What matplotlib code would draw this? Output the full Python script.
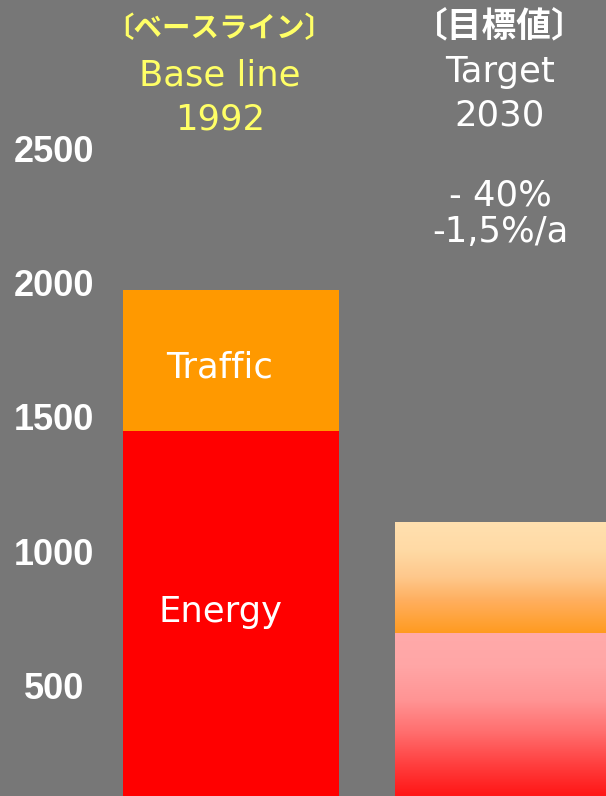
import numpy as np
import matplotlib
matplotlib.use("Agg")
import matplotlib.pyplot as plt
from matplotlib.colors import LinearSegmentedColormap

# ---- data ----
categories = ["Base line 1992", "Target 2030"]
energy = [1462, 707]
traffic = [526, 417]  # stacked on top of energy
yticks = [500, 1000, 1500, 2000, 2500]

W, H = 606, 796
BG = "#777777"
fig = plt.figure(figsize=(W / 100, H / 100), dpi=100, facecolor=BG)
ax = fig.add_axes([0, 0, 1, 1])
ax.set_facecolor(BG)
# y: value 0 at pixel 823.75, 134.25 px per 500
ppu = 134.25 / 500
ax.set_ylim((823.75 - H) / ppu, 823.75 / ppu)
ax.set_xlim(-231 / 272, (W - 231) / 272)
ax.axis("off")

x = np.arange(len(categories))
w = 216 / 272

# Base line bars (solid)
ax.bar(x[0], energy[0], width=w, color="#FF0000", zorder=2)
ax.bar(x[0], traffic[0], bottom=energy[0], width=w, color="#FF9900", zorder=2)

# Target bars (gradient)
def grad_bar(xc, bottom, height, colors):
    cmap = LinearSegmentedColormap.from_list("g", colors)
    grad = np.linspace(0, 1, 256).reshape(-1, 1)
    ax.imshow(grad, cmap=cmap, aspect="auto", origin="upper",
              extent=[xc - w / 2, xc + w / 2, bottom, bottom + height], zorder=2)

grad_bar(x[1], energy[1], traffic[1],
         [(0, "#FFE0B0"), (0.25, "#FFDAA5"), (0.49, "#FEC88C"),
          (0.7, "#FFAF5F"), (1, "#FF9A1E")])
grad_bar(x[1], 0, energy[1],
         [(0, "#FFAAAA"), (0.17, "#FFA6A6"), (0.35, "#FF9494"),
          (0.52, "#FF6E6E"), (0.70, "#FF3C3C"), (0.84, "#FF1919"),
          (1, "#FF0000")])

# y tick labels
for v in yticks:
    ax.text(54 / 272 - 231 / 272, v, f"{v}", color="white", fontsize=26,
            fontweight="bold", family="Liberation Sans", ha="center",
            va="center", zorder=3)

lat = ["DejaVu Sans", "Noto Sans CJK JP"]
cjk = ["Noto Sans CJK JP", "DejaVu Sans"]
yel = "#FFFF66"

def hdr(xpx, ypx, s, color, size=25.5, fam=lat, va="baseline", weight="normal"):
    fig.text(xpx / W, 1 - ypx / H, s, color=color, fontsize=size, ha="center",
             va=va, family=fam, fontweight=weight, zorder=3)

hdr(219, 29, "〔ベースライン〕", yel, 20.5, cjk, "center", "bold")
hdr(220, 86, "Base line", yel)
hdr(220, 130, "1992", yel)
hdr(500, 26, "〔目標値〕", "white", 25, cjk, "center", "bold")
hdr(500, 82, "Target", "white")
hdr(500, 125, "2030", "white")
hdr(500, 205, "- 40%", "white")
hdr(500, 242, "-1,5%/a", "white")

# in-bar labels
hdr(220, 377, "Traffic", "white")
hdr(221, 622, "Energy", "white")

fig.savefig("out.png", dpi=100, facecolor=BG)
